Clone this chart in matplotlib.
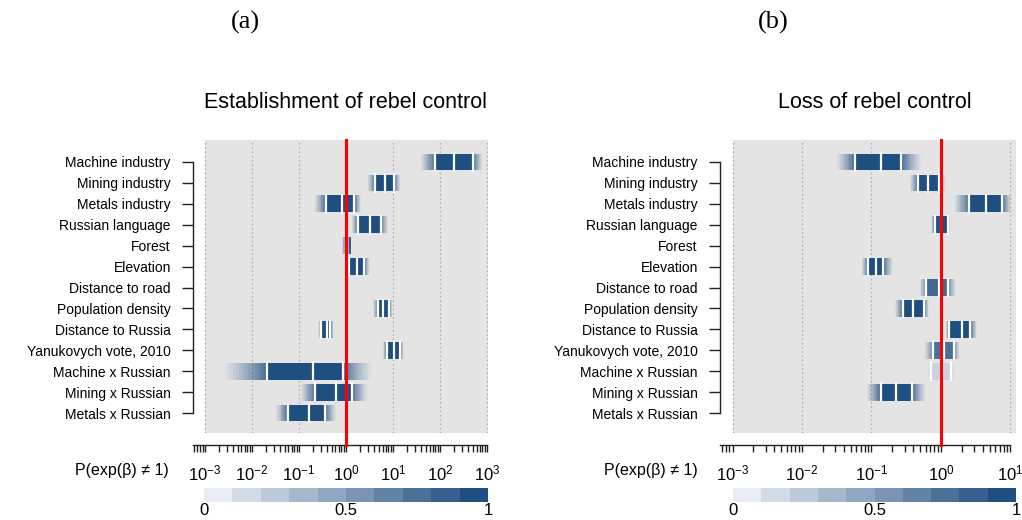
import numpy as np
import matplotlib
matplotlib.use('Agg')
import matplotlib.pyplot as plt
from matplotlib.colors import to_rgb
from matplotlib.ticker import LogLocator, NullFormatter, FixedLocator

plt.rcParams['font.family'] = ['Liberation Sans', 'DejaVu Sans']
plt.rcParams['mathtext.fontset'] = 'custom'
plt.rcParams['mathtext.rm'] = 'Liberation Sans'
plt.rcParams['mathtext.it'] = 'Liberation Sans:italic'

variables = ["Machine industry", "Mining industry", "Metals industry", "Russian language",
             "Forest", "Elevation", "Distance to road", "Population density",
             "Distance to Russia", "Yanukovych vote, 2010", "Machine x Russian",
             "Mining x Russian", "Metals x Russian"]

nan = np.nan
# Panel (a): establishment of rebel control, log10(exp(beta)) summaries
a_tail_lo = [1.57, 0.45, -0.68, 0.12, -0.08, -0.02, nan, 0.57, -0.59, 0.78, -2.61, -0.98, -1.51]
a_lo      = [1.89, 0.62, -0.43, 0.26, -0.06, 0.07, nan, 0.69, -0.52, 0.87, -1.67, -0.66, -1.23]
a_med     = [2.30, 0.83, -0.09, 0.51, 0.03, 0.24, nan, 0.79, -0.41, 1.02, -0.69, -0.22, -0.79]
a_hi      = [2.70, 1.02, 0.17, 0.74, 0.09, 0.38, nan, 0.92, -0.33, 1.15, -0.07, 0.12, -0.45]
a_tail_hi = [2.91, 1.17, 0.33, 0.90, 0.12, 0.51, nan, 0.99, -0.26, 1.23, 0.55, 0.47, -0.20]
a_prob    = [1.0, 1.0, 1.0, 1.0, 0.45, 1.0, 0.0, 1.0, 1.0, 1.0, 1.0, 1.0, 1.0]

# Panel (b): loss of rebel control
b_tail_lo = [-1.51, -0.45, 0.19, -0.14, nan, -1.15, -0.31, -0.67, 0.07, -0.24, -0.20, -1.08, nan]
b_lo      = [-1.24, -0.33, 0.40, -0.09, nan, -1.05, -0.21, -0.55, 0.11, -0.12, -0.14, -0.87, nan]
b_med     = [-0.87, -0.18, 0.65, 0.00, nan, -0.94, -0.03, -0.40, 0.30, 0.04, 0.00, -0.64, nan]
b_hi      = [-0.57, -0.03, 0.88, 0.10, nan, -0.83, 0.10, -0.25, 0.42, 0.19, 0.15, -0.41, nan]
b_tail_hi = [-0.28, 0.07, 1.02, 0.13, nan, -0.69, 0.22, -0.17, 0.52, 0.27, 0.20, -0.21, nan]
b_prob    = [1.0, 1.0, 1.0, 1.0, 0.0, 1.0, 0.85, 1.0, 1.0, 0.8, 0.25, 1.0, 0.0]

titles = ["Establishment of rebel control", "Loss of rebel control"]
panel_tags = ["(a)", "(b)"]
cbar_ticks = [0, 0.5, 1]
cbar_ticklabels = ["0", "0.5", "1"]

BLUE = to_rgb('#1f4e80')
W, H = 1022, 520
fig = plt.figure(figsize=(W / 100, H / 100), dpi=100)


def px_axes(x0, x1, y0, y1):
    return fig.add_axes([x0 / W, 1 - y1 / H, (x1 - x0) / W, (y1 - y0) / H])


def shade(p):
    # colour blended toward white by probability
    return tuple(1 - p * (1 - c) for c in BLUE)


def draw_panel(ax, tl, lo, med, hi, th, prob, xr, gray_right, title, tag, cx, cbx):
    n = len(variables)
    ax.set_xscale('log')
    ax.set_xlim(10 ** xr[0], 10 ** xr[1])
    ax.set_ylim(n - 0.05, -1.05)
    ax.set_facecolor('white')
    ax.axvspan(1e-3, 10 ** gray_right, color='#e4e4e4', zorder=0, lw=0)
    decades = np.arange(-3, int(np.floor(xr[1] + 1e-9)) + 1)
    for d in decades:
        ax.axvline(10.0 ** d, color='#a8a8a8', lw=0.9, ls=(0, (1.2, 2.2)), zorder=1)

    for i in range(n):
        if np.isnan(lo[i]):
            continue
        col = shade(prob[i])
        ax.barh(i, 10 ** hi[i] - 10 ** lo[i], left=10 ** lo[i], height=0.8,
                color=col, lw=0, zorder=2)
        steps = 14
        for side in (0, 1):
            a0, a1 = (lo[i], tl[i]) if side == 0 else (hi[i], th[i])
            edges = np.linspace(a0, a1, steps + 1)
            for k in range(steps):
                alpha = 0.8 * (1 - (k + 0.5) / steps) ** 1.2
                l, r = sorted((edges[k], edges[k + 1]))
                ax.barh(i, 10 ** r - 10 ** l, left=10 ** l, height=0.8,
                        color=col, alpha=alpha, lw=0, zorder=2)
        if hi[i] - lo[i] > 0.16:
            for v in (lo[i], med[i], hi[i]):
                ax.plot([10 ** v, 10 ** v], [i - 0.47, i + 0.47], color='white', lw=1.6,
                        zorder=3, solid_capstyle='butt')
        else:
            ax.plot([10 ** hi[i], 10 ** hi[i]], [i - 0.4, i + 0.4], color=BLUE, lw=1.2,
                    zorder=3, solid_capstyle='butt')

    ax.axvline(1.0, ymin=-12 / 293, ymax=1.0, color='#ff0000', lw=2.2, zorder=5,
               clip_on=False)

    for s in ('top', 'right'):
        ax.spines[s].set_visible(False)
    ax.spines['bottom'].set_position(('outward', 8.6))
    ax.spines['bottom'].set_bounds(10 ** xr[0], 10 ** min(xr[1], decades[-1]))
    ax.spines['left'].set_bounds(0, n - 1)
    for s in ('bottom', 'left'):
        ax.spines[s].set_linewidth(1.0)
        ax.spines[s].set_color('#222222')

    ax.xaxis.set_major_locator(FixedLocator(10.0 ** decades))
    ax.xaxis.set_minor_locator(LogLocator(base=10, subs=np.arange(2, 10), numticks=20))
    ax.xaxis.set_minor_formatter(NullFormatter())
    ax.tick_params(axis='x', which='both', direction='out', length=5, width=1.0,
                   color='#222222', labelsize=12, pad=8)
    ax.set_yticks(range(n))
    ax.set_yticklabels(variables)
    ax.tick_params(axis='y', length=8, width=1.0, color='#222222', labelsize=10, pad=8)
    ax.grid(False)

    fig.text(cx / W, 1 - 102 / H, title, ha='center', va='center', fontsize=15.5)
    fig.text(tag[1] / W, 1 - 22 / H, tag[0], ha='center', va='center', fontsize=19,
             family=['Liberation Serif', 'DejaVu Serif'])

    cax = px_axes(cbx[0], cbx[1], 488, 502)
    levels = np.arange(10)
    cax.bar((levels + 0.5) / 10, 1, width=0.1, color=[shade((k + 1) / 10) for k in levels],
            lw=0, align='center')
    cax.set_xlim(0, 1)
    cax.set_ylim(0, 1)
    for s in cax.spines.values():
        s.set_visible(False)
    cax.set_yticks([])
    cax.set_xticks(cbar_ticks)
    cax.set_xticklabels(cbar_ticklabels)
    cax.tick_params(axis='x', length=0, labelsize=12, pad=0.5)
    fig.text((cbx[0] - 35) / W, 1 - 471 / H, "P(exp(\u03b2) \u2260 1)", ha='right',
             va='center', fontsize=11.5)


ax_a = px_axes(193, 488, 140, 433)
draw_panel(ax_a, a_tail_lo, a_lo, a_med, a_hi, a_tail_hi, a_prob, (-3.25, 3.02), 3.02,
           titles[0], (panel_tags[0], 245), 346, (204, 488))

ax_b = px_axes(720, 1016, 140, 433)
draw_panel(ax_b, b_tail_lo, b_lo, b_med, b_hi, b_tail_hi, b_prob, (-3.18, 1.08), 1.08,
           titles[1], (panel_tags[1], 773), 875, (733, 1016))

fig.savefig('out.png', dpi=100)
